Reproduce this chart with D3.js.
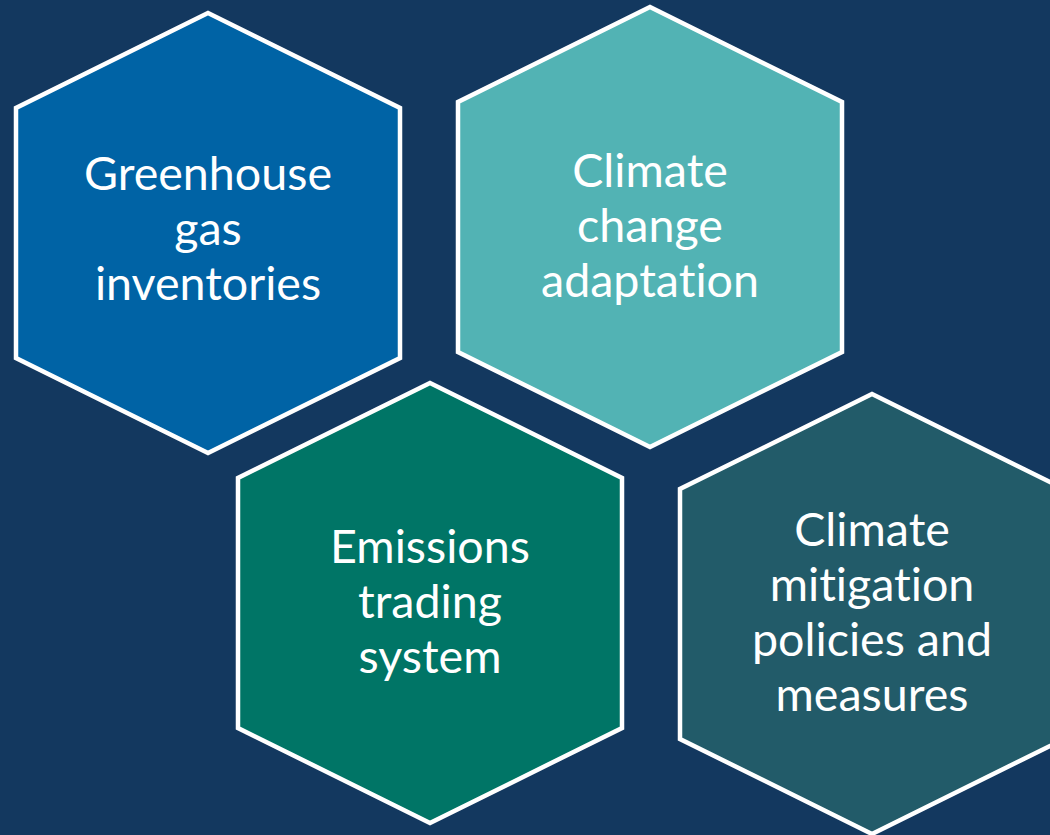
<!DOCTYPE html>
<html><head><meta charset="utf-8">
<script src="https://cdn.jsdelivr.net/npm/d3@7"></script>
<style>html,body{margin:0;padding:0;background:#13385F;}svg{display:block;}text{font-variant-ligatures:none;font-feature-settings:"liga" 0,"clig" 0;}</style>
</head><body>
<script>
// Data
const categories = ["Greenhouse gas inventories", "Climate change adaptation", "Emissions trading system", "Climate mitigation policies and measures"];
const labelLines = [["Greenhouse","gas","inventories"],["Climate","change","adaptation"],["Emissions","trading","system"],["Climate","mitigation","policies and","measures"]];
const fillColors = ["#0063A5","#52B3B4","#007566","#225B69"];

// Layout (hexagon geometry: centre x, top y, half-width)
const layout = [
  {cx:208, top:13, hw:192},
  {cx:650, top:7,  hw:192},
  {cx:430, top:383,hw:192},
  {cx:872, top:394,hw:192}
];
const shoulder = 95, side = 250;
const firstBaseline = [190, 187, 563, 546];
const lineGap = 55;

const W = 1050, H = 835;
const svg = d3.select("body").append("svg").attr("width", W).attr("height", H);
svg.append("rect").attr("width", W).attr("height", H).attr("fill", "#13385F");

const line = d3.line();
function hexPts(d){
  const t=d.top, l=d.cx-d.hw, r=d.cx+d.hw;
  return [[d.cx,t],[r,t+shoulder],[r,t+shoulder+side],[d.cx,t+2*shoulder+side],[l,t+shoulder+side],[l,t+shoulder]];
}

const g = svg.selectAll("g.hex").data(categories).join("g").attr("class","hex");
g.append("path")
  .attr("d",(d,i)=>line(hexPts(layout[i]))+"Z")
  .attr("fill",(d,i)=>fillColors[i])
  .attr("stroke","#fff").attr("stroke-width",4.5).attr("stroke-linejoin","miter");

// font sizing: match reference width of "Greenhouse" (~248px)
const fam = "Lato, 'Open Sans', sans-serif";
const probe = svg.append("text").attr("font-family",fam).attr("font-size",100).text("Greenhouse");
const w100 = probe.node().getComputedTextLength();
probe.remove();
const fs = 100*248/w100;

g.each(function(d,i){
  const t = d3.select(this).append("text")
    .attr("text-anchor","middle").attr("fill","#fff")
    .attr("font-family",fam).attr("font-size",fs);
  labelLines[i].forEach((s,k)=>{
    t.append("tspan").attr("x",layout[i].cx).attr("y",firstBaseline[i]+k*lineGap).text(s);
  });
});
</script>
</body></html>
